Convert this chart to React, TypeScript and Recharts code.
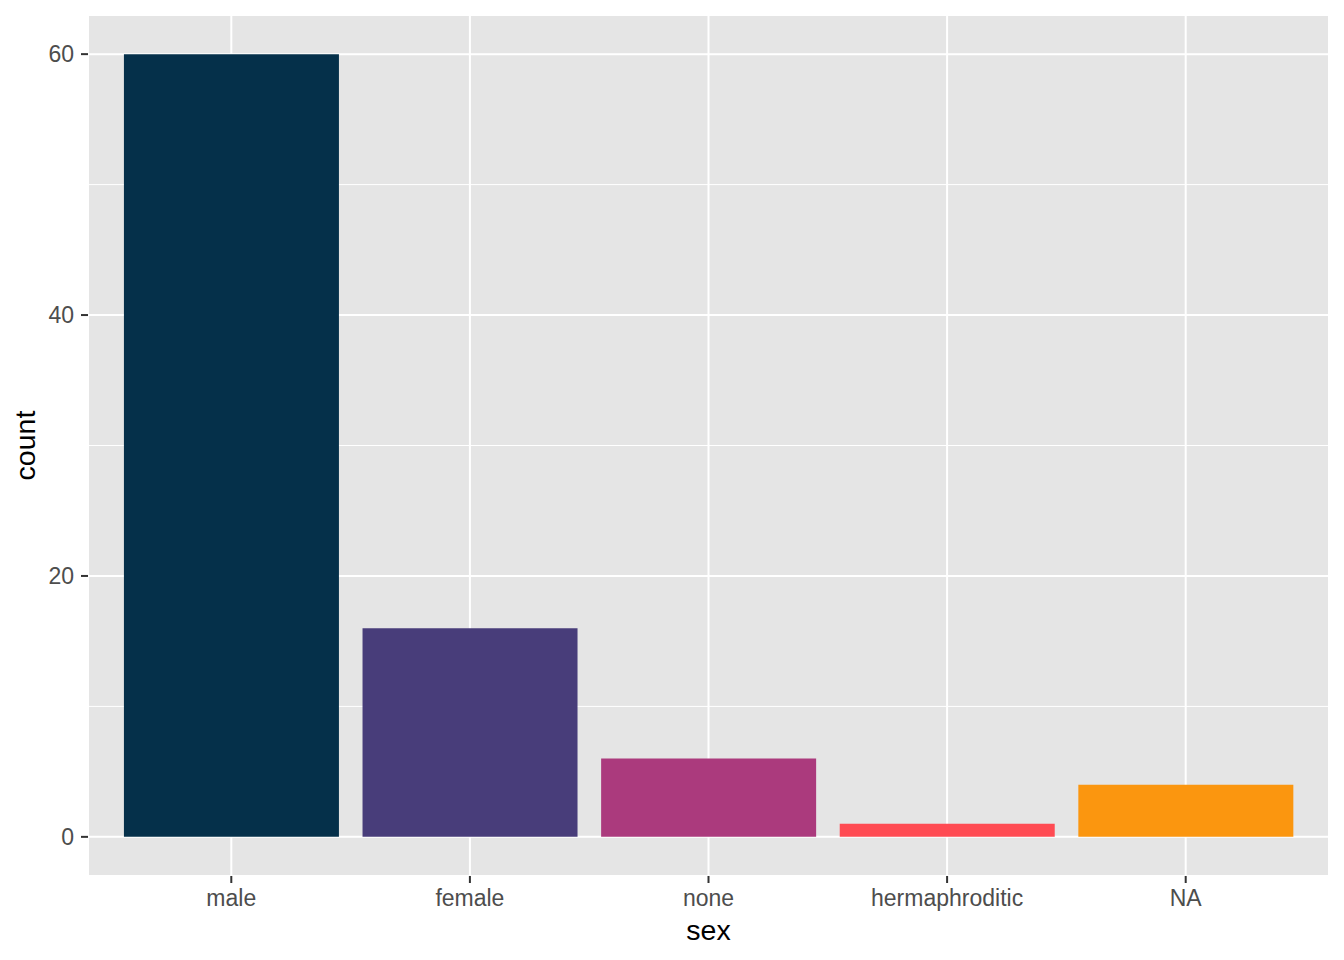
import { Bar, BarChart, CartesianGrid, Cell, Label, XAxis, YAxis } from "recharts";

const categories = ["male", "female", "none", "hermaphroditic", "NA"];
const counts = [60, 16, 6, 1, 4];
const barColors = ["#05304A", "#483D7A", "#AB3A7D", "#FF4B53", "#FB960F"];
const majorTicks = [0, 20, 40, 60];
const minorTicks = [10, 30, 50];

const data = categories.map((sex, i) => ({ sex, count: counts[i] }));

const FONT = '"Liberation Sans", Arial, Helvetica, sans-serif';

// ggplot-ish axis titles, placed from the axis box recharts hands us
function XTitle(props: { viewBox?: { x: number; y: number; width: number; height: number } }) {
  const vb = props.viewBox;
  if (!vb) return null;
  return (
    <text x={vb.x + vb.width / 2} y={vb.y + vb.height - 20} textAnchor="middle" fontSize={28.5} fill="#000" fontFamily={FONT}>
      sex
    </text>
  );
}

function YTitle(props: { viewBox?: { x: number; y: number; width: number; height: number } }) {
  const vb = props.viewBox;
  if (!vb) return null;
  const x = vb.x + 35;
  const y = vb.y + vb.height / 2;
  return (
    <text x={x} y={y} transform={`rotate(-90, ${x}, ${y})`} textAnchor="middle" fontSize={28.5} fill="#000" fontFamily={FONT}>
      count
    </text>
  );
}

export default function App() {
  const tick = { fill: "#4D4D4D", fontSize: 23, fontFamily: FONT };
  const tickLine = { stroke: "#333333", strokeWidth: 2 };
  return (
    <div style={{ position: "absolute", left: 0, top: 0, width: 1344, height: 960, background: "#fff" }}>
      <BarChart width={1344} height={960} data={data} margin={{ top: 15, right: 15, left: 0, bottom: 0 }} barCategoryGap="5%">
        {/* minor grid first, it also paints the panel background */}
        <CartesianGrid yAxisId="minor" vertical={false} fill="#E5E5E5" stroke="#FFFFFF" strokeWidth={1} />
        <CartesianGrid stroke="#FFFFFF" strokeWidth={2} fill="none" />
        <XAxis
          dataKey="sex"
          padding={{ left: 24, right: 24 }}
          height={84}
          axisLine={false}
          tickSize={7}
          tickMargin={7}
          tickLine={tickLine}
          tick={tick}
          interval={0}
        >
          <Label content={<XTitle />} />
        </XAxis>
        <YAxis
          domain={[-3, 63]}
          ticks={majorTicks}
          width={88}
          axisLine={false}
          tickSize={7}
          tickMargin={7}
          tickLine={tickLine}
          tick={tick}
          allowDataOverflow
        >
          <Label content={<YTitle />} />
        </YAxis>
        <YAxis yAxisId="minor" hide domain={[-3, 63]} ticks={minorTicks} allowDataOverflow />
        <Bar dataKey="count" isAnimationActive={false}>
          {data.map((d, i) => (
            <Cell key={d.sex} fill={barColors[i]} />
          ))}
        </Bar>
      </BarChart>
    </div>
  );
}
